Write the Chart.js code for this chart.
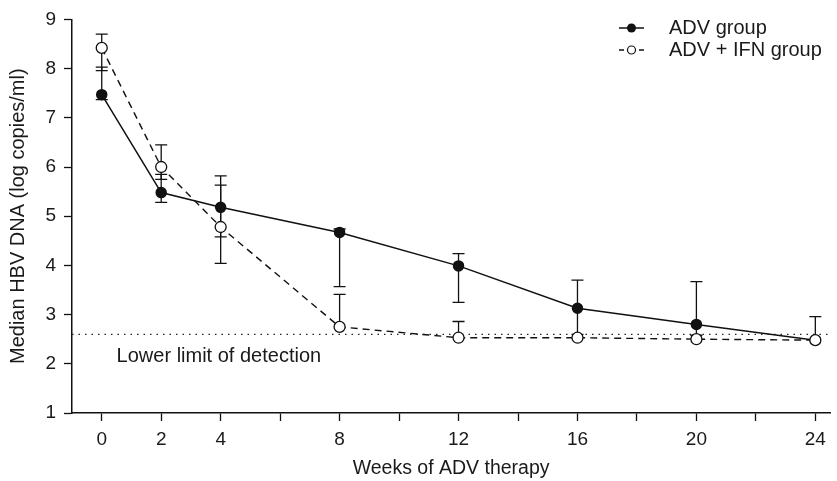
<!DOCTYPE html>
<html>
<head>
<meta charset="utf-8">
<script src="https://cdn.jsdelivr.net/npm/chart.js@4/dist/chart.umd.min.js"></script>
<style>
  html, body { margin: 0; padding: 0; background: #fff; }
</style>
</head>
<body>
<canvas id="c" width="837" height="481"></canvas>
<script>
const weeks = [0, 2, 4, 8, 12, 16, 20, 24]
const weekLabels = [0, 2, 4, 8, 12, 16, 20, 24]
const tickWeeks = [0, 2, 4, 6, 8, 10, 12, 14, 16, 18, 20, 22, 24]

// ADV group (filled dots)
const advMedian = [7.47, 5.48, 5.18, 4.67, 3.99, 3.13, 2.80, 2.48]
const advUpper = [8.03, 5.85, 5.82, 4.74, 4.24, 3.70, 3.67, null]
const advLower = [7.37, 5.28, 4.58, 3.57, 3.25, 2.60, 2.58, null]

// ADV + IFN group (open circles)
const ifnMedian = [8.42, 6.00, 4.78, 2.75, 2.53, 2.53, 2.50, 2.48]
const ifnUpper = [8.70, 6.45, 5.63, 3.41, 2.86, null, null, 2.96]
const ifnLower = [7.96, 5.75, 4.04, null, null, null, null, null]

const detectionLimit = 2.6

const FONT = '"Liberation Sans", Arial, sans-serif'
Chart.defaults.font.family = FONT
Chart.defaults.font.size = 19
Chart.defaults.color = '#1a1a1a'

const toPoints = (vals) => weeks.map((w, i) => ({x: w, y: vals[i]}))

const errorBars = {
    id: 'errorBars',
    beforeDatasetsDraw(chart) {
        const {ctx, scales: {x, y}} = chart
        ctx.save()
        ctx.strokeStyle = '#111'
        ctx.lineWidth = 1.3
        const groups = [[advMedian, advUpper, advLower], [ifnMedian, ifnUpper, ifnLower]]
        groups.forEach(([mid, up, lo]) => {
            weeks.forEach((w, i) => {
                const px = x.getPixelForValue(w)
                const pm = y.getPixelForValue(mid[i])
                ;[up[i], lo[i]].forEach(v => {
                    if (v == null) return
                    const py = y.getPixelForValue(v)
                    ctx.beginPath()
                    ctx.moveTo(px, pm)
                    ctx.lineTo(px, py)
                    ctx.moveTo(px - 6, py)
                    ctx.lineTo(px + 6, py)
                    ctx.stroke()
                })
            })
        })
        ctx.restore()
    }
}

const extras = {
    id: 'extras',
    afterDraw(chart) {
        const {ctx, scales: {x, y}} = chart
        ctx.save()
        ctx.fillStyle = '#1a1a1a'
        ctx.font = '20px ' + FONT
        ctx.textBaseline = 'middle'
        ctx.fillText('Lower limit of detection', x.getPixelForValue(0.5), y.getPixelForValue(detectionLimit) + 22)

        // legend
        const lx = 619, ly1 = 28, ly2 = 50
        ctx.strokeStyle = '#111'
        ctx.lineWidth = 1.5
        ctx.beginPath()
        ctx.moveTo(lx, ly1)
        ctx.lineTo(lx + 25, ly1)
        ctx.stroke()
        ctx.beginPath()
        ctx.arc(lx + 12.5, ly1, 4.5, 0, Math.PI * 2)
        ctx.fillStyle = '#111'
        ctx.fill()
        ctx.beginPath()
        ctx.moveTo(lx, ly2)
        ctx.lineTo(lx + 5, ly2)
        ctx.moveTo(lx + 20, ly2)
        ctx.lineTo(lx + 25, ly2)
        ctx.stroke()
        ctx.beginPath()
        ctx.lineWidth = 1.2
        ctx.arc(lx + 12.5, ly2, 4, 0, Math.PI * 2)
        ctx.stroke()
        ctx.fillStyle = '#1a1a1a'
        ctx.fillText('ADV group', 669, ly1)
        ctx.fillText('ADV + IFN group', 669, ly2)
        ctx.restore()
    }
}

new Chart(document.getElementById('c'), {
    type: 'line',
    data: {
        datasets: [
            {
                label: 'ADV + IFN group',
                data: toPoints(ifnMedian),
                borderColor: '#111',
                borderWidth: 1.4,
                borderDash: [7, 5],
                pointRadius: 5.5,
                pointBackgroundColor: '#fff',
                pointBorderColor: '#111',
                pointBorderWidth: 1.3,
                order: 0
            },
            {
                label: 'ADV group',
                data: toPoints(advMedian),
                borderColor: '#111',
                borderWidth: 1.5,
                pointRadius: 5,
                pointBackgroundColor: '#111',
                pointBorderColor: '#111',
                order: 1
            },
            {
                label: 'Lower limit of detection',
                data: [{x: -1, y: detectionLimit}, {x: 24.5, y: detectionLimit}],
                borderColor: '#222',
                borderWidth: 1.3,
                borderDash: [1.5, 5],
                pointRadius: 0,
                order: 2
            }
        ]
    },
    options: {
        responsive: false,
        animation: false,
        devicePixelRatio: 1,
        layout: {padding: {top: 11, right: 2, left: 6, bottom: 1}},
        plugins: {legend: {display: false}, tooltip: {enabled: false}},
        scales: {
            x: {
                type: 'linear',
                min: -1,
                max: 24.5,
                afterFit: s => { s.height = 67 },
                afterBuildTicks: s => { s.ticks = tickWeeks.map(v => ({value: v})) },
                ticks: {
                    padding: 7,
                    autoSkip: false,
                    maxRotation: 0,
                    callback: v => weekLabels.includes(v) ? String(v) : ''
                },
                grid: {drawOnChartArea: false, drawTicks: true, tickLength: 8, color: '#111', tickWidth: 1.3},
                border: {display: true, color: '#111', width: 1.5},
                title: {display: true, text: 'Weeks of ADV therapy', font: {size: 19.5}, padding: 0}
            },
            y: {
                min: 1,
                max: 9,
                afterFit: s => { s.width = 66 },
                ticks: {stepSize: 1, padding: 8},
                grid: {drawOnChartArea: false, drawTicks: true, tickLength: 8, color: '#111', tickWidth: 1.3},
                border: {display: true, color: '#111', width: 1.5},
                title: {display: true, text: 'Median HBV DNA (log copies/ml)', font: {size: 20}, padding: 0}
            }
        }
    },
    plugins: [errorBars, extras]
})
</script>
</body>
</html>
